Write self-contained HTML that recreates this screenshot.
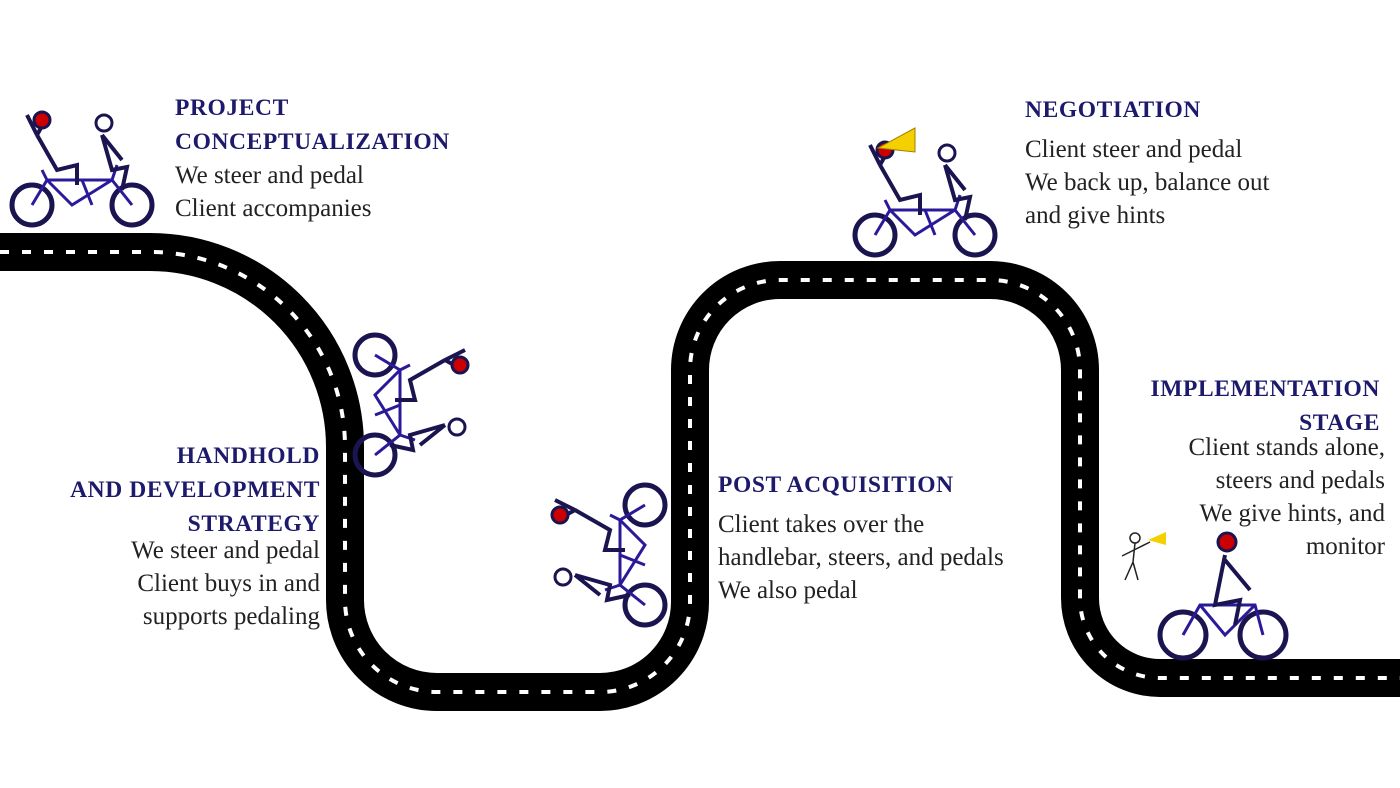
<!DOCTYPE html>
<html><head><meta charset="utf-8"><style>
body{margin:0;width:1400px;height:788px;background:#fff;overflow:hidden;position:relative;font-family:"Liberation Serif",serif;}
.t{position:absolute;font-size:25px;line-height:33px;color:#222;white-space:nowrap;}
.h{color:#1d1a6b;font-weight:bold;font-size:23.5px;letter-spacing:0.6px;}
.r{text-align:right;}
svg{position:absolute;left:0;top:0;}
</style></head><body>
<svg width="1400" height="788" viewBox="0 0 1400 788">
<defs>
<g id="bike2">
<circle cx="-50" cy="0" r="20" fill="none" stroke="#1a1450" stroke-width="5"/>
<circle cx="50" cy="0" r="20" fill="none" stroke="#1a1450" stroke-width="5"/>
<path d="M-50 0 L-35 -25 L30 -25 L50 0 M-35 -25 L-10 0 L30 -25 M0 -25 L10 0 M-40 -35 L-35 -25 M35 -40 L30 -25" stroke="#2a1a9a" stroke-width="3" fill="none"/>
<path d="M-45 -70 L-25 -35 L-5 -40 L-5 -20 M-45 -70 L-55 -90 M-45 -70 L-35 -88 M20 -70 L30 -35 L45 -38 L40 -15 M20 -70 L40 -45" stroke="#1a1450" stroke-width="4" fill="none"/>
<circle cx="-40" cy="-85" r="8" fill="#c00" stroke="#1a1450" stroke-width="3"/>
<circle cx="22" cy="-82" r="8" fill="#fff" stroke="#1a1450" stroke-width="3"/>
</g>
</defs>
<path d="M0 252 H150 A195 195 0 0 1 345 447 V600 A92 92 0 0 0 437 692 H600 A90 90 0 0 0 690 602 V370 A90 90 0 0 1 780 280 H990 A90 90 0 0 1 1080 370 V598 A80 80 0 0 0 1160 678 H1400" fill="none" stroke="#000" stroke-width="38"/>
<path d="M0 252 H150 A195 195 0 0 1 345 447 V600 A92 92 0 0 0 437 692 H600 A90 90 0 0 0 690 602 V370 A90 90 0 0 1 780 280 H990 A90 90 0 0 1 1080 370 V598 A80 80 0 0 0 1160 678 H1400" fill="none" stroke="#fff" stroke-width="4" stroke-dasharray="9 13"/>
<use href="#bike2" transform="translate(82,205)"/>
<use href="#bike2" transform="translate(925,235)"/>
<polygon points="878,148 915,128 915,152" fill="#f5d000" stroke="#a08000"/>
<use href="#bike2" transform="translate(375,405) rotate(90)"/>
<use href="#bike2" transform="matrix(0,1,1,0,645,555)"/>
<g>
<circle cx="1183" cy="635" r="23" fill="none" stroke="#1a1450" stroke-width="5"/>
<circle cx="1263" cy="635" r="23" fill="none" stroke="#1a1450" stroke-width="5"/>
<path d="M1183 635 L1200 605 L1255 605 L1263 635 M1200 605 L1225 635 L1255 605" stroke="#2a1a9a" stroke-width="3" fill="none"/>
<path d="M1225 555 L1215 605 L1240 600 L1235 625 M1225 560 L1250 590" stroke="#1a1450" stroke-width="4" fill="none"/>
<circle cx="1227" cy="542" r="9" fill="#c00" stroke="#1a1450" stroke-width="3"/>
<circle cx="1135" cy="538" r="5" fill="#fff" stroke="#222" stroke-width="1.5"/>
<path d="M1135 543 L1133 562 L1125 580 M1133 562 L1138 580 M1134 550 L1150 542 M1134 550 L1122 556" stroke="#222" stroke-width="1.5" fill="none"/>
<polygon points="1148,540 1166,532 1166,545" fill="#f5d000"/>
</g>
</svg>
<div class="t" style="left:175px;top:91px"><span class="h">PROJECT<br>CONCEPTUALIZATION</span><br>We steer and pedal<br>Client accompanies</div>
<div class="t r" style="right:1080px;top:439px"><span class="h">HANDHOLD<br>AND DEVELOPMENT<br>STRATEGY</span></div>
<div class="t r" style="right:1080px;top:534px">We steer and pedal<br>Client buys in and<br>supports pedaling</div>
<div class="t" style="left:718px;top:468px"><span class="h">POST ACQUISITION</span></div>
<div class="t" style="left:718px;top:508px">Client takes over the<br>handlebar, steers, and pedals<br>We also pedal</div>
<div class="t" style="left:1025px;top:93px"><span class="h">NEGOTIATION</span></div>
<div class="t" style="left:1025px;top:133px">Client steer and pedal<br>We back up, balance out<br>and give hints</div>
<div class="t r" style="right:20px;top:372px"><span class="h">IMPLEMENTATION<br>STAGE</span></div>
<div class="t r" style="right:15px;top:431px">Client stands alone,<br>steers and pedals<br>We give hints, and<br>monitor</div>
</body></html>
